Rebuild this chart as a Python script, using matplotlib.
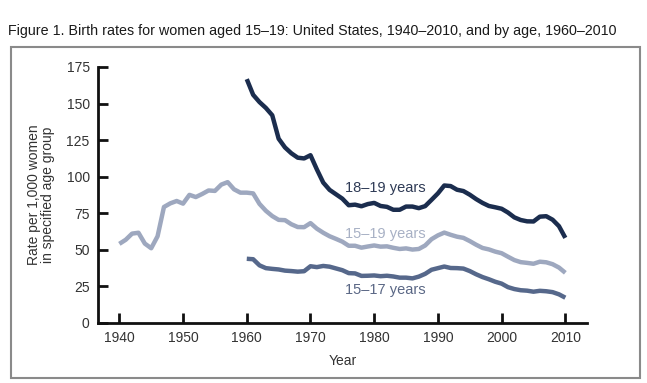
import matplotlib.pyplot as plt
from matplotlib.patches import Rectangle

plt.rcParams['font.family'] = ['Liberation Sans', 'DejaVu Sans']

# birth rates per 1,000 women
years_all = list(range(1940, 2011))
rate_15_19 = [54.1, 56.9, 61.1, 61.7, 54.3, 51.1, 59.3, 79.3, 81.8, 83.4,
              81.6, 87.6, 86.1, 88.2, 90.6, 90.3, 94.6, 96.3, 91.4, 89.1,
              89.1, 88.6, 81.4, 76.7, 73.1, 70.5, 70.3, 67.5, 65.6, 65.5,
              68.3, 64.5, 61.7, 59.3, 57.5, 55.6, 52.8, 52.8, 51.5, 52.3,
              53.0, 52.2, 52.4, 51.4, 50.6, 51.0, 50.2, 50.6, 53.0, 57.3,
              59.9, 61.8, 60.3, 59.0, 58.2, 56.0, 53.5, 51.3, 50.3, 48.8,
              47.7, 45.3, 43.0, 41.6, 41.1, 40.5, 41.9, 41.5, 40.2, 37.9,
              34.3]

years_age = list(range(1960, 2011))
rate_18_19 = [166.7, 156.0, 151.0, 147.0, 142.0, 126.0, 120.0, 116.0, 113.0, 112.5,
              114.7, 105.0, 96.0, 91.0, 88.0, 85.0, 80.5, 80.9, 79.8, 81.3,
              82.1, 80.0, 79.4, 77.4, 77.4, 79.6, 79.6, 78.5, 79.9, 84.2,
              88.6, 94.0, 93.6, 91.1, 90.2, 87.7, 84.7, 82.1, 80.0, 79.1,
              78.1, 75.5, 72.2, 70.4, 69.5, 69.4, 72.7, 73.0, 70.6, 66.2,
              58.2]
rate_15_17 = [43.9, 43.6, 39.4, 37.5, 37.0, 36.6, 35.8, 35.5, 35.1, 35.4,
              38.8, 38.2, 39.0, 38.5, 37.3, 36.1, 34.1, 33.9, 32.2, 32.3,
              32.5, 32.0, 32.3, 31.8, 31.0, 31.0, 30.5, 31.7, 33.6, 36.4,
              37.5, 38.6, 37.6, 37.5, 37.2, 35.5, 33.3, 31.4, 29.9, 28.2,
              26.9, 24.5, 23.2, 22.4, 22.1, 21.4, 22.0, 21.7, 21.1, 19.6,
              17.3]

x_ticks = [1940, 1950, 1960, 1970, 1980, 1990, 2000, 2010]
y_ticks = [0, 25, 50, 75, 100, 125, 150, 175]

c_dark = '#1b2d4e'
c_light = '#9ea8bf'
c_mid = '#56688b'

fig = plt.figure(figsize=(6.47, 3.83), dpi=100)
fig.patch.set_facecolor('white')

# grey frame around the chart
fig.patches.append(Rectangle((11 / 647, 1 - 378 / 383), 629 / 647, 331 / 383,
                             transform=fig.transFigure, fill=False,
                             edgecolor='#8a8a8a', linewidth=1.5))

fig.text(8 / 647, 1 - 31 / 383,
         'Figure 1. Birth rates for women aged 15\u201319: United States, 1940\u20132010, and by age, 1960\u20132010',
         fontsize=10.3, color='#1a1a1a', va='center', ha='left')

ax = fig.add_axes([98 / 647, 1 - 323 / 383, 489 / 647, 256 / 383])
ax.plot(years_all, rate_15_19, color=c_light, lw=3.2, solid_capstyle='butt')
ax.plot(years_age, rate_15_17, color=c_mid, lw=3.2, solid_capstyle='butt')
ax.plot(years_age, rate_18_19, color=c_dark, lw=3.2, solid_capstyle='butt')

ax.text(1981.8, 92, '18\u201319 years', color='#2e3a55', fontsize=10.5, ha='center', va='center')
ax.text(1981.8, 61, '15\u201319 years', color='#a8b1c5', fontsize=10.5, ha='center', va='center')
ax.text(1981.8, 22.5, '15\u201317 years', color='#5a6785', fontsize=10.5, ha='center', va='center')

ax.set_xlim(1936.65, 2013.4)
ax.set_ylim(0, 175)
ax.set_xticks(x_ticks)
ax.set_yticks(y_ticks)
ax.tick_params(direction='in', length=7, width=2, color='#111111',
               labelsize=10, labelcolor='#333333', pad=6)
for side in ['top', 'right']:
    ax.spines[side].set_visible(False)
for side in ['left', 'bottom']:
    ax.spines[side].set_linewidth(2)
    ax.spines[side].set_color('#111111')

ax.set_xlabel('Year', fontsize=10, color='#333333', labelpad=6)
ax.set_ylabel('Rate per 1,000 women\nin specified age group', fontsize=10,
              color='#333333', labelpad=8, linespacing=1.0)

fig.savefig('out.png', dpi=100)
